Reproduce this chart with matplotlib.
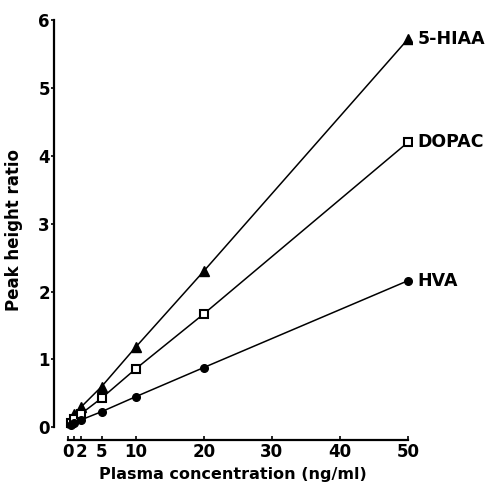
import numpy as np
from matplotlib import pyplot as plt

plt.rcParams['font.family'] = ['DejaVu Sans']
plt.rcParams['font.weight'] = 'bold'

conc = [0.5, 1, 2, 5, 10, 20, 50]
hiaa = [0.1, 0.2, 0.3, 0.6, 1.18, 2.3, 5.72]
dopac = [0.07, 0.12, 0.2, 0.43, 0.86, 1.67, 4.2]
hva = [0.04, 0.07, 0.11, 0.23, 0.45, 0.88, 2.16]

xticks = [0, 1, 2, 5, 10, 20, 30, 40, 50]
xticklabels = ['0', '', '2', '5', '10', '20', '30', '40', '50']
yticks = [0, 1, 2, 3, 4, 5, 6]

fig = plt.figure(figsize=(4.86, 4.88), dpi=100)
ax = fig.add_axes([0.111, 0.098, 0.737, 0.861])

ax.plot([0] + conc, [0] + hiaa, '-', color='black', lw=1.1, marker='^', ms=6.5,
        markevery=list(range(1, 8)))
ax.plot([0] + conc, [0] + dopac, '-', color='black', lw=1.1, marker='s', ms=5.5,
        mfc='white', mec='black', mew=1.5, markevery=list(range(1, 8)))
ax.plot([0] + conc, [0] + hva, '-', color='black', lw=1.1, marker='o', ms=5.5,
        markevery=list(range(1, 8)))

ax.text(51.4, hiaa[-1], '5-HIAA', fontsize=12.5, fontweight='bold', va='center')
ax.text(51.4, dopac[-1], 'DOPAC', fontsize=12.5, fontweight='bold', va='center')
ax.text(51.4, hva[-1], 'HVA', fontsize=12.5, fontweight='bold', va='center')

ax.set_xlim(-2, 50.6)
ax.set_ylim(-0.19, 6.0)
for s in ['top', 'right']:
    ax.spines[s].set_visible(False)
ax.spines['left'].set_bounds(0, 6)
ax.spines['bottom'].set_bounds(0, 50)
ax.spines['left'].set_linewidth(1.6)
ax.spines['bottom'].set_linewidth(1.6)

ax.set_xticks(xticks)
ax.set_xticklabels(xticklabels)
ax.set_yticks(yticks)
ax.tick_params(labelsize=12)
ax.tick_params(axis='x', direction='in', length=3, width=1.2, pad=2)
ax.tick_params(axis='y', direction='out', length=2, width=1.2, pad=1)

ax.set_ylabel('Peak height ratio', fontsize=12, fontweight='bold', labelpad=11)
ax.set_xlabel('Plasma concentration (ng/ml)', fontsize=11.5, fontweight='bold', labelpad=4)

fig.savefig('out.png', dpi=100)
